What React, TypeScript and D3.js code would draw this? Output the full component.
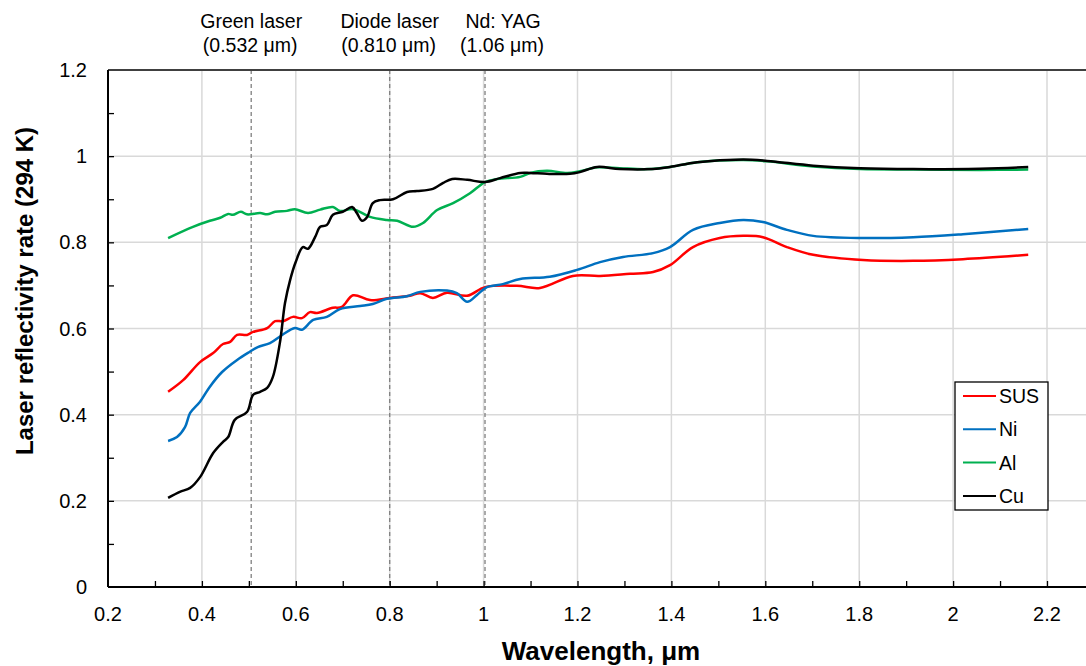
import React, { useEffect, useRef } from 'react';
import * as d3 from 'd3';

type Pt = [number, number];

// wavelength (um), reflectivity
const susData: Pt[] = [
  [0.328, 0.453], [0.36, 0.48], [0.396, 0.522], [0.424, 0.543], [0.445, 0.564], [0.46, 0.569],
  [0.475, 0.585], [0.496, 0.585], [0.509, 0.592], [0.539, 0.601], [0.556, 0.617], [0.573, 0.617],
  [0.594, 0.627], [0.613, 0.624], [0.63, 0.638], [0.645, 0.636], [0.679, 0.648], [0.698, 0.65],
  [0.722, 0.677], [0.758, 0.666], [0.801, 0.671], [0.843, 0.676], [0.865, 0.682], [0.892, 0.671],
  [0.922, 0.683], [0.965, 0.676], [1.003, 0.696], [1.071, 0.699], [1.12, 0.694], [1.19, 0.722],
  [1.248, 0.722], [1.312, 0.727], [1.361, 0.731], [1.397, 0.747], [1.446, 0.789], [1.503, 0.81],
  [1.553, 0.815], [1.595, 0.812], [1.646, 0.789], [1.702, 0.771], [1.808, 0.759], [1.915, 0.757],
  [2.021, 0.761], [2.16, 0.771],
];

const niData: Pt[] = [
  [0.328, 0.339], [0.347, 0.348], [0.364, 0.371], [0.375, 0.404], [0.396, 0.43], [0.417, 0.465],
  [0.443, 0.499], [0.475, 0.527], [0.502, 0.546], [0.519, 0.557], [0.545, 0.566], [0.571, 0.585],
  [0.598, 0.601], [0.613, 0.597], [0.637, 0.62], [0.666, 0.627], [0.694, 0.645], [0.737, 0.652],
  [0.764, 0.657], [0.794, 0.669], [0.837, 0.675], [0.865, 0.685], [0.922, 0.688], [0.943, 0.682],
  [0.965, 0.662], [0.986, 0.678], [1.007, 0.696], [1.041, 0.703], [1.078, 0.715], [1.141, 0.72],
  [1.199, 0.736], [1.248, 0.754], [1.297, 0.766], [1.361, 0.775], [1.397, 0.789], [1.446, 0.829],
  [1.503, 0.845], [1.553, 0.852], [1.595, 0.847], [1.646, 0.829], [1.702, 0.815], [1.808, 0.81],
  [1.915, 0.812], [2.021, 0.819], [2.16, 0.831],
];

const alData: Pt[] = [
  [0.328, 0.81], [0.381, 0.836], [0.417, 0.85], [0.439, 0.857], [0.456, 0.866], [0.466, 0.864],
  [0.483, 0.871], [0.496, 0.865], [0.524, 0.868], [0.539, 0.865], [0.556, 0.871], [0.581, 0.873],
  [0.598, 0.877], [0.626, 0.868], [0.652, 0.876], [0.679, 0.882], [0.694, 0.873], [0.722, 0.877],
  [0.758, 0.859], [0.794, 0.852], [0.816, 0.85], [0.85, 0.836], [0.871, 0.845], [0.901, 0.875],
  [0.935, 0.891], [0.971, 0.914], [1.003, 0.94], [1.029, 0.947], [1.078, 0.952], [1.099, 0.961],
  [1.135, 0.966], [1.178, 0.961], [1.205, 0.965], [1.242, 0.974], [1.29, 0.972], [1.348, 0.97],
  [1.397, 0.975], [1.455, 0.986], [1.553, 0.991], [1.604, 0.988], [1.702, 0.976], [1.802, 0.97],
  [1.915, 0.969], [2.057, 0.968], [2.16, 0.969],
];

const cuData: Pt[] = [
  [0.328, 0.207], [0.353, 0.221], [0.375, 0.23], [0.396, 0.255], [0.424, 0.311], [0.445, 0.337],
  [0.456, 0.348], [0.47, 0.388], [0.496, 0.406], [0.509, 0.446], [0.524, 0.453], [0.539, 0.462],
  [0.551, 0.487], [0.566, 0.566], [0.577, 0.659], [0.588, 0.713], [0.6, 0.755], [0.615, 0.789],
  [0.626, 0.785], [0.641, 0.812], [0.652, 0.836], [0.666, 0.84], [0.679, 0.864], [0.7, 0.871],
  [0.72, 0.882], [0.73, 0.868], [0.741, 0.85], [0.752, 0.859], [0.764, 0.891], [0.779, 0.898],
  [0.807, 0.9], [0.837, 0.917], [0.858, 0.919], [0.892, 0.924], [0.914, 0.938], [0.933, 0.947],
  [0.965, 0.945], [1.003, 0.94], [1.035, 0.949], [1.078, 0.961], [1.099, 0.961], [1.135, 0.959],
  [1.184, 0.959], [1.205, 0.963], [1.242, 0.975], [1.29, 0.97], [1.361, 0.97], [1.397, 0.975],
  [1.455, 0.986], [1.553, 0.992], [1.604, 0.989], [1.702, 0.978], [1.802, 0.972], [1.915, 0.97],
  [2.057, 0.971], [2.16, 0.975],
];

const seriesNames = ['SUS', 'Ni', 'Al', 'Cu'];
const seriesColors = ['#ff0000', '#0070c0', '#00b050', '#000000'];
const seriesData = [susData, niData, alData, cuData];

// laser markers: where the dashed line sits, and its two label lines
const laserPos = [0.505, 0.8, 1.003];
const laserName = ['Green laser', 'Diode laser', 'Nd: YAG'];
const laserWl = ['(0.532 \u03bcm)', '(0.810 \u03bcm)', '(1.06 \u03bcm)'];
const laserLabelShift = [0, 0, 18];

const xTicks = [0.2, 0.4, 0.6, 0.8, 1, 1.2, 1.4, 1.6, 1.8, 2, 2.2];
const yTicks = [0, 0.2, 0.4, 0.6, 0.8, 1, 1.2];

const W = 1086;
const H = 666;
const FONT = 'Liberation Sans, Arial, sans-serif';

const App = () => {
  const ref = useRef<SVGSVGElement>(null);

  useEffect(() => {
    const svg = d3.select(ref.current);
    svg.selectAll('*').remove();

    const x = d3.scaleLinear().domain([0.2, 2.4]).range([108, 108 + 2.2 * 469.5]);
    const y = d3.scaleLinear().domain([0, 1.2]).range([587, 70]);
    const left = x(0.2);
    const bottom = y(0);
    const top = y(1.2);

    // gridlines
    const grid = svg.append('g');
    grid.selectAll('.gx')
      .data(xTicks.slice(1))
      .enter()
      .append('line')
      .attr('x1', (d) => x(d)).attr('x2', (d) => x(d))
      .attr('y1', top).attr('y2', bottom)
      .attr('stroke', '#d9d9d9').attr('stroke-width', 1.5);
    grid.selectAll('.gy')
      .data(yTicks.slice(1, -1))
      .enter()
      .append('line')
      .attr('x1', left).attr('x2', W)
      .attr('y1', (d) => y(d)).attr('y2', (d) => y(d))
      .attr('stroke', '#d9d9d9').attr('stroke-width', 1.5);

    // laser dashed lines
    svg.selectAll('.laser')
      .data(laserPos)
      .enter()
      .append('line')
      .attr('x1', (d) => x(d)).attr('x2', (d) => x(d))
      .attr('y1', top).attr('y2', bottom)
      .attr('stroke', '#7f7f7f').attr('stroke-width', 1.3)
      .attr('stroke-dasharray', '4,3');

    const labels = svg.append('g')
      .attr('font-family', FONT).attr('font-size', 19.5).attr('fill', '#000')
      .attr('text-anchor', 'middle');
    laserPos.forEach((p, i) => {
      labels.append('text').attr('x', x(p) + laserLabelShift[i]).attr('y', 28).text(laserName[i]);
      labels.append('text').attr('x', x(p) + laserLabelShift[i] - 1).attr('y', 52).text(laserWl[i]);
    });

    // frame
    svg.append('line').attr('x1', left).attr('x2', W).attr('y1', top).attr('y2', top)
      .attr('stroke', '#404040').attr('stroke-width', 2);

    // axes with inward ticks
    const xAxis = d3.axisBottom(x)
      .tickValues(d3.range(3, 23).map((v) => v / 10))
      .tickSize(-6).tickFormat(() => '');
    svg.append('g').attr('transform', `translate(0,${bottom})`).call(xAxis)
      .call((g) => g.select('.domain').attr('stroke', '#000').attr('stroke-width', 2).attr('d', `M${left},0H${W}`))
      .call((g) => g.selectAll('line').attr('stroke', '#000').attr('stroke-width', 1.3));

    const yAxis = d3.axisLeft(y)
      .tickValues(d3.range(1, 12).map((v) => v / 10))
      .tickSize(-6).tickFormat(() => '');
    svg.append('g').attr('transform', `translate(${left},0)`).call(yAxis)
      .call((g) => g.select('.domain').attr('stroke', '#000').attr('stroke-width', 2).attr('d', `M0,${top}V${bottom}`))
      .call((g) => g.selectAll('line').attr('stroke', '#000').attr('stroke-width', 1.3));

    const tickText = svg.append('g').attr('font-family', FONT).attr('font-size', 20).attr('fill', '#000');
    tickText.selectAll('.xt')
      .data(xTicks)
      .enter()
      .append('text')
      .attr('x', (d) => x(d)).attr('y', bottom + 34)
      .attr('text-anchor', 'middle')
      .text((d) => d3.format('~g')(d));
    tickText.selectAll('.yt')
      .data(yTicks)
      .enter()
      .append('text')
      .attr('x', left - 21).attr('y', (d) => y(d) + 7)
      .attr('text-anchor', 'end')
      .text((d) => d3.format('~g')(d));

    // axis titles
    svg.append('text')
      .attr('x', 601).attr('y', 660)
      .attr('text-anchor', 'middle')
      .attr('font-family', FONT).attr('font-size', 26).attr('font-weight', 'bold')
      .text('Wavelength, \u03bcm');
    svg.append('text')
      .attr('transform', 'translate(33,291) rotate(-90)')
      .attr('text-anchor', 'middle')
      .attr('font-family', FONT).attr('font-size', 24).attr('font-weight', 'bold')
      .text('Laser reflectivity rate (294 K)');

    // curves
    const line = d3.line<Pt>()
      .x((d) => x(d[0]))
      .y((d) => y(d[1]))
      .curve(d3.curveCatmullRom.alpha(0.5));
    svg.selectAll('.series')
      .data(seriesData)
      .enter()
      .append('path')
      .attr('d', (d) => line(d))
      .attr('fill', 'none')
      .attr('stroke', (_d, i) => seriesColors[i])
      .attr('stroke-width', 2.5)
      .attr('stroke-linejoin', 'round');

    // legend
    const lg = svg.append('g').attr('transform', 'translate(955,382)');
    lg.append('rect').attr('width', 93).attr('height', 128)
      .attr('fill', '#fff').attr('stroke', '#000').attr('stroke-width', 1.3);
    seriesNames.forEach((name, i) => {
      const ly = 14 + i * 33.3;
      lg.append('line').attr('x1', 8).attr('x2', 41).attr('y1', ly).attr('y2', ly)
        .attr('stroke', seriesColors[i]).attr('stroke-width', 2);
      lg.append('text').attr('x', 44).attr('y', ly + 7)
        .attr('font-family', FONT).attr('font-size', 19.5).attr('fill', '#000')
        .text(name);
    });
  }, []);

  return (
    <svg ref={ref} width={W} height={H}
      style={{ position: 'absolute', left: 0, top: 0, background: '#fff' }} />
  );
};

export default App;
